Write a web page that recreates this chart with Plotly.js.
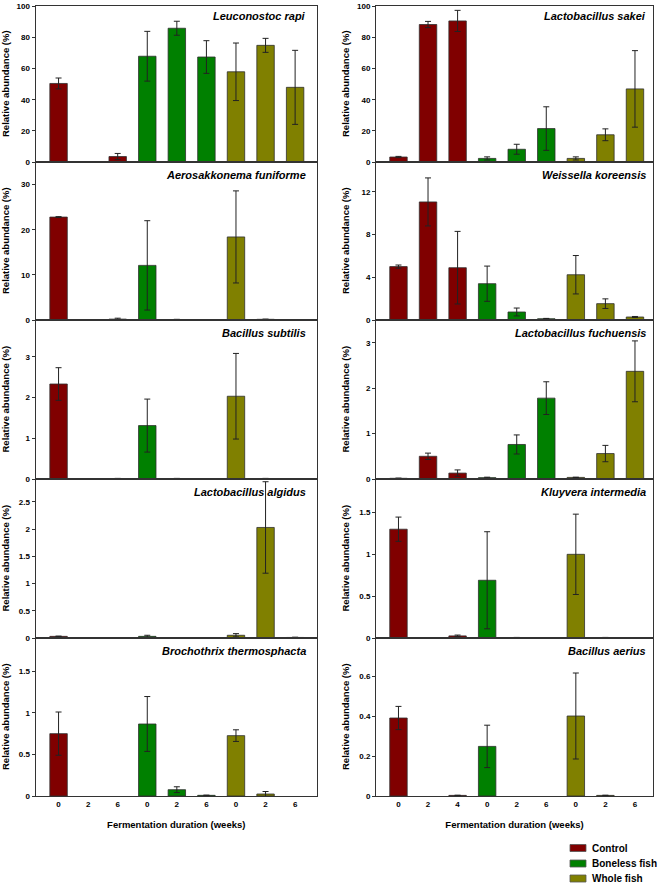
<!DOCTYPE html>
<html><head><meta charset="utf-8">
<script src="https://cdn.plot.ly/plotly-3.0.1.min.js"></script>
<style>html,body{margin:0;padding:0;background:#fff;} #chart{width:658px;height:885px;}</style>
</head><body><div id="chart"></div>
<script>
// ---- data ----
const groups = ["Control", "Boneless fish", "Whole fish"];
const tickLabelsLeft = ["0","2","6","0","2","6","0","2","6"];
const tickLabelsRight = ["0","2","4","0","2","6","0","2","6"];

const leuconostocRapi      = [50.5, 0, 3.5, 68, 86, 67.5, 58, 75, 48];
const leuconostocRapiErr   = [3.5, 0, 2, 16, 4.5, 10.5, 18.5, 4.5, 23.8];
const lactobacillusSakei   = [3.2, 88.4, 90.7, 2.3, 8.2, 21.5, 2.3, 17.5, 47];
const lactobacillusSakeiErr= [0.4, 2, 6.8, 1, 3.2, 14, 1, 3.8, 24.6];
const aerosakkonema        = [22.8, 0, 0.2, 12.1, 0.1, 0, 18.4, 0.15, 0];
const aerosakkonemaErr     = [0.1, 0, 0.2, 9.9, 0.05, 0, 10.2, 0.05, 0];
const weissellaKoreensis   = [5.0, 11.06, 4.9, 3.4, 0.75, 0.12, 4.24, 1.53, 0.28];
const weissellaKoreensisErr= [0.15, 2.25, 3.4, 1.65, 0.37, 0.03, 1.8, 0.45, 0.05];
const bacillusSubtilis     = [2.33, 0, 0.01, 1.31, 0.01, 0, 2.03, 0.01, 0];
const bacillusSubtilisErr  = [0.4, 0, 0.005, 0.65, 0.005, 0, 1.05, 0.005, 0];
const lactobacillusFuchuensis    = [0.015, 0.5, 0.13, 0.03, 0.76, 1.78, 0.035, 0.56, 2.37];
const lactobacillusFuchuensisErr = [0.005, 0.07, 0.07, 0.01, 0.21, 0.36, 0.005, 0.18, 0.67];
const lactobacillusAlgidus    = [0.03, 0, 0, 0.03, 0, 0, 0.05, 2.03, 0.01];
const lactobacillusAlgidusErr = [0.005, 0, 0, 0.02, 0, 0, 0.03, 0.84, 0.005];
const kluyveraIntermedia    = [1.3, 0, 0.025, 0.69, 0.005, 0, 1.0, 0.005, 0];
const kluyveraIntermediaErr = [0.145, 0, 0.01, 0.58, 0.002, 0, 0.48, 0.002, 0];
const brochothrix    = [0.75, 0, 0, 0.866, 0.076, 0.008, 0.726, 0.024, 0];
const brochothrixErr = [0.26, 0, 0, 0.33, 0.035, 0.003, 0.07, 0.03, 0];
const bacillusAerius    = [0.39, 0, 0.003, 0.248, 0, 0, 0.4, 0.003, 0];
const bacillusAeriusErr = [0.058, 0, 0.001, 0.106, 0, 0, 0.215, 0.001, 0];

const ticksA = [0, 20, 40, 60, 80, 100];
const ticksAero = [0, 10, 20, 30];
const ticksWeis = [0, 4, 8, 12];
const ticksSub = [0, 1, 2, 3];
const ticksAlg = [0, 0.5, 1, 1.5, 2, 2.5];
const ticksHalf = [0, 0.5, 1, 1.5];
const ticksAer = [0, 0.2, 0.4, 0.6];

// ---- panels (col, row) ----
const panels = [
  {name:"Leuconostoc rapi", v:leuconostocRapi, e:leuconostocRapiErr, ticks:ticksA, yMax:100.3, c:0, r:0},
  {name:"Lactobacillus sakei", v:lactobacillusSakei, e:lactobacillusSakeiErr, ticks:ticksA, yMax:100.3, c:1, r:0},
  {name:"Aerosakkonema funiforme", v:aerosakkonema, e:aerosakkonemaErr, ticks:ticksAero, yMax:35, c:0, r:1},
  {name:"Weissella koreensis", v:weissellaKoreensis, e:weissellaKoreensisErr, ticks:ticksWeis, yMax:14.8, c:1, r:1},
  {name:"Bacillus subtilis", v:bacillusSubtilis, e:bacillusSubtilisErr, ticks:ticksSub, yMax:3.9, c:0, r:2},
  {name:"Lactobacillus fuchuensis", v:lactobacillusFuchuensis, e:lactobacillusFuchuensisErr, ticks:ticksSub, yMax:3.5, c:1, r:2},
  {name:"Lactobacillus algidus", v:lactobacillusAlgidus, e:lactobacillusAlgidusErr, ticks:ticksAlg, yMax:2.92, c:0, r:3},
  {name:"Kluyvera intermedia", v:kluyveraIntermedia, e:kluyveraIntermediaErr, ticks:ticksHalf, yMax:1.9, c:1, r:3},
  {name:"Brochothrix thermosphacta", v:brochothrix, e:brochothrixErr, ticks:ticksHalf, yMax:1.9, c:0, r:4},
  {name:"Bacillus aerius", v:bacillusAerius, e:bacillusAeriusErr, ticks:ticksAer, yMax:0.79, c:1, r:4}
];

// ---- layout constants ----
const W = 658, H = 885;
const groupColors = ["#800000", "#008000", "#808000"];
const colX = [[35.5, 317], [376, 653]];
const rowY = [[6, 162], [162, 320], [320, 479], [479, 638], [638, 796]];
const xRanges = [[-0.78, 8.74], [-0.76, 8.61]];
const nameInset = [9, 5];
const yTitleX = [5, 345];
const FONT = "Arial, 'Liberation Sans', sans-serif";
const xd = px => px / W;
const yd = py => 1 - py / H;

const traces = [];
const layout = {
  width: W, height: H,
  margin: {l:0, r:0, t:0, b:0},
  paper_bgcolor: "#fff", plot_bgcolor: "#fff",
  barmode: "overlay",
  showlegend: false,
  font: {family: FONT, color: "#000"},
  annotations: [], shapes: []
};

panels.forEach((p, k) => {
  const ax = k === 0 ? "" : String(k + 1);
  const xa = "x" + ax, ya = "y" + ax;
  const labels = p.c === 0 ? tickLabelsLeft : tickLabelsRight;
  groups.forEach((g, gi) => {
    const idx = [3*gi, 3*gi+1, 3*gi+2];
    traces.push({
      type: "bar", name: g, xaxis: xa, yaxis: ya,
      x: idx, y: idx.map(i => p.v[i]),
      width: 0.59,
      marker: {color: groupColors[gi],
               line: {color: "#2e2e2e", width: idx.map(i => p.v[i] === 0 ? 0 : 0.8)}},
      error_y: {type: "data", array: idx.map(i => p.v[i] === 0 ? NaN : p.e[i]),
                visible: true, color: "#222", thickness: 1, width: 3},
      showlegend: false
    });
  });
  const bottom = p.r === 4;
  layout["xaxis" + ax] = {
    domain: [xd(colX[p.c][0]), xd(colX[p.c][1])],
    range: xRanges[p.c], anchor: ya,
    tickmode: "array", tickvals: labels.map((_, i) => i), ticktext: labels,
    showticklabels: bottom, ticks: "",
    tickfont: {family: FONT, size: 8, weight: "bold"},
    showline: true, mirror: true, linecolor: "#333", linewidth: 1,
    showgrid: false, zeroline: false,
    title: bottom ? {text: "Fermentation duration (weeks)", font: {family: FONT, size: 9.5, weight: "bold"}, standoff: 13} : {text: ""}
  };
  layout["yaxis" + ax] = {
    domain: [yd(rowY[p.r][1]), yd(rowY[p.r][0])],
    range: [0, p.yMax], anchor: xa,
    tickmode: "array", tickvals: p.ticks,
    ticks: "outside", ticklen: 3, tickwidth: 1, tickcolor: "#333",
    ticklabeloverflow: "allow",
    tickfont: {family: FONT, size: 8, weight: "bold"},
    showline: true, mirror: true, linecolor: "#333", linewidth: 1,
    showgrid: false, zeroline: false
  };
  layout.annotations.push({
    xref: "paper", yref: "paper",
    x: xd(colX[p.c][1] - nameInset[p.c]), y: yd(rowY[p.r][0] + (p.r === 0 ? 10 : 12.5)),
    xanchor: "right", yanchor: "middle", showarrow: false,
    text: p.name, font: {family: FONT, size: 11, weight: "bold", style: "italic"}
  });
  layout.annotations.push({
    xref: "paper", yref: "paper",
    x: xd(yTitleX[p.c]), y: yd((rowY[p.r][0] + rowY[p.r][1]) / 2),
    xanchor: "center", yanchor: "middle", showarrow: false, textangle: -90,
    text: "Relative abundance (%)", font: {family: FONT, size: 9.5, weight: "bold"}
  });
});

// manual legend
const legendRows = [848, 863.5, 878.5];
groups.forEach((g, gi) => {
  layout.shapes.push({
    type: "rect", xref: "paper", yref: "paper",
    x0: xd(570), x1: xd(586), y0: yd(legendRows[gi] - 3.5), y1: yd(legendRows[gi] + 3.5),
    fillcolor: groupColors[gi], line: {color: "#555", width: 0.8}
  });
  layout.annotations.push({
    xref: "paper", yref: "paper", x: xd(590), y: yd(legendRows[gi]),
    xanchor: "left", yanchor: "middle", showarrow: false,
    text: g, font: {family: FONT, size: 10, weight: "bold"}
  });
});

Plotly.newPlot("chart", traces, layout, {displayModeBar: false, staticPlot: true});
</script>
</body></html>
